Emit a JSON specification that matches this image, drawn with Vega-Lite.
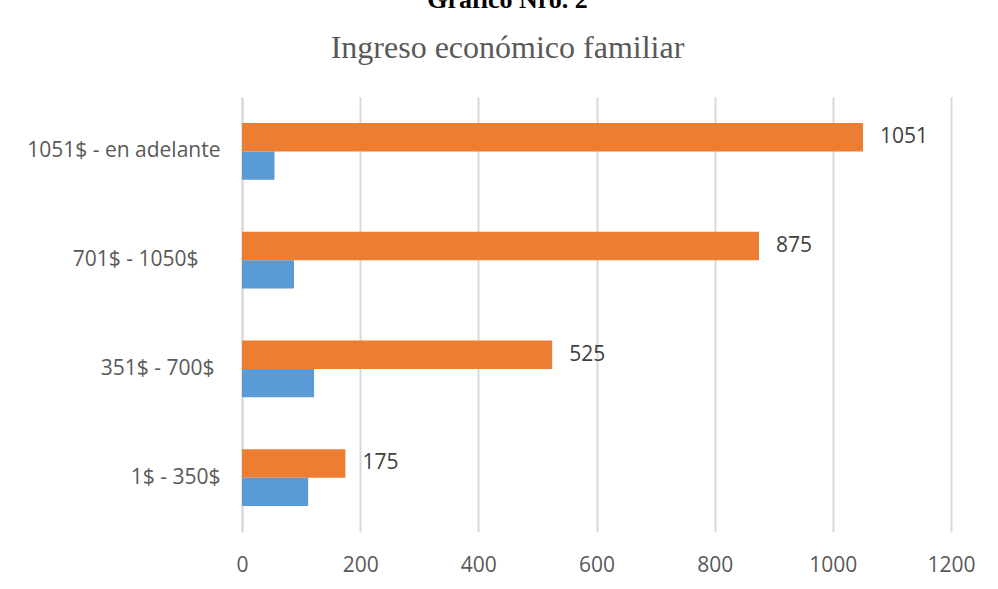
{
  "$schema": "https://vega.github.io/schema/vega-lite/v6.json",
  "width": 709,
  "height": 435,
  "autosize": {"type": "none"},
  "padding": {"left": 242, "top": 97, "right": 47, "bottom": 57},
  "background": "white",
  "title": {
    "text": "Gráfico Nro. 2",
    "subtitle": "Ingreso económico familiar",
    "anchor": "middle",
    "dx": -89,
    "offset": 33,
    "font": "Liberation Serif",
    "fontSize": 26,
    "fontWeight": "bold",
    "color": "black",
    "subtitleFont": "Liberation Serif",
    "subtitleFontSize": 32,
    "subtitleColor": "#595959",
    "subtitlePadding": 20
  },
  "data": {
    "values": [
      {"rango": "1051$ - en adelante", "serie": "B", "valor": 1051},
      {"rango": "1051$ - en adelante", "serie": "A", "valor": 55},
      {"rango": "701$ - 1050$", "serie": "B", "valor": 875},
      {"rango": "701$ - 1050$", "serie": "A", "valor": 88},
      {"rango": "351$ - 700$", "serie": "B", "valor": 525},
      {"rango": "351$ - 700$", "serie": "A", "valor": 122},
      {"rango": "1$ - 350$", "serie": "B", "valor": 175},
      {"rango": "1$ - 350$", "serie": "A", "valor": 112}
    ]
  },
  "encoding": {
    "y": {
      "field": "rango",
      "type": "nominal",
      "sort": ["1051$ - en adelante", "701$ - 1050$", "351$ - 700$", "1$ - 350$"],
      "scale": {"paddingInner": 0.476, "paddingOuter": 0.238},
      "axis": {
        "title": null,
        "ticks": false,
        "domain": true,
        "domainColor": "#d9d9d9",
        "domainWidth": 2,
        "labelFont": "Open Sans",
        "labelFontSize": 21,
        "labelColor": "#595959",
        "labelLimit": 400,
        "labelPadding": {
          "condition": [
            {"test": "datum.value === '701$ - 1050$'", "value": 44},
            {"test": "datum.value === '351$ - 700$'", "value": 28}
          ],
          "value": 22
        }
      }
    },
    "yOffset": {
      "field": "serie",
      "type": "nominal",
      "sort": ["B", "A"],
      "scale": {"paddingInner": 0, "paddingOuter": 0}
    },
    "x": {
      "field": "valor",
      "type": "quantitative",
      "scale": {"domain": [0, 1200], "nice": false},
      "axis": {
        "title": null,
        "values": [0, 200, 400, 600, 800, 1000, 1200],
        "format": "d",
        "ticks": false,
        "domain": false,
        "grid": true,
        "gridColor": "#d9d9d9",
        "gridWidth": 2,
        "labelFlush": false,
        "labelFont": "Open Sans",
        "labelFontSize": 21,
        "labelColor": "#595959",
        "labelPadding": 22
      }
    }
  },
  "layer": [
    {
      "mark": {"type": "bar"},
      "encoding": {
        "color": {
          "field": "serie",
          "type": "nominal",
          "scale": {"domain": ["A", "B"], "range": ["#5B9BD5", "#ED7D31"]},
          "legend": null
        }
      }
    },
    {
      "transform": [{"filter": "datum.serie === 'B'"}],
      "mark": {"type": "text", "align": "left", "dx": 17, "font": "Open Sans", "fontSize": 21, "color": "#404040"},
      "encoding": {"text": {"field": "valor", "type": "quantitative"}}
    }
  ],
  "config": {"view": {"stroke": null}}
}
